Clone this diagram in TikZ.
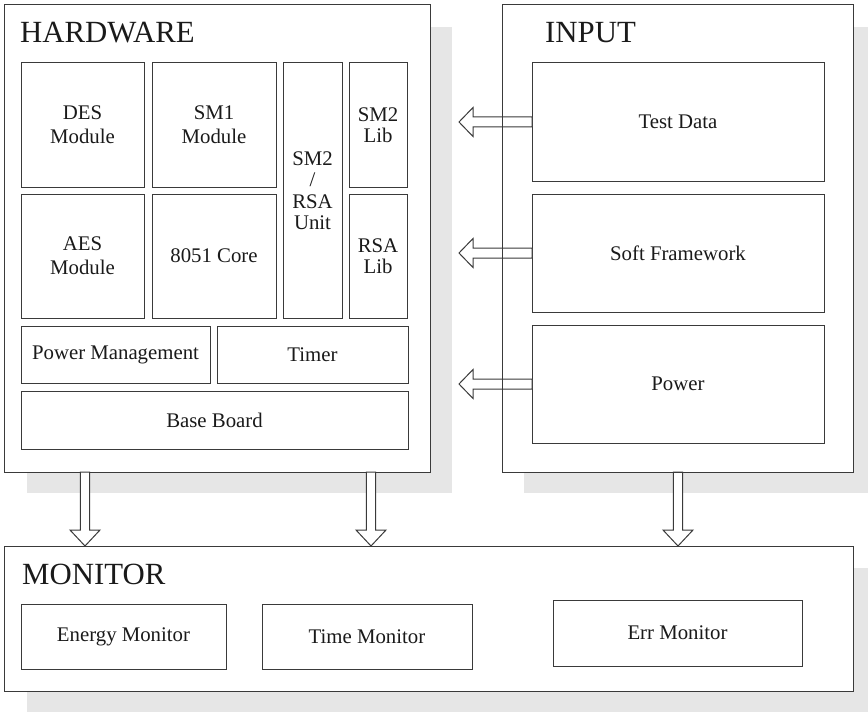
\documentclass[tikz,border=0pt]{standalone}
\usepackage{fontspec}
\setmainfont{Liberation Serif}
\usetikzlibrary{calc}
\definecolor{dropgrey}{HTML}{E6E6E6}
\definecolor{edge}{HTML}{3A3A3A}
\definecolor{ink}{HTML}{1A1A1A}

% a labelled block spanning the corners (#3,#4) and (#5,#6)
\newcommand{\unitbox}[7][]{%
  \node[unit, #1, minimum width={(#5-#3)*1bp}, minimum height={(#6-#4)*1bp}]
    (#2) at ({(#3+#5)/2},{(#4+#6)/2}) {#7};}
% hollow block arrow pointing left, starting at the given point
\newcommand{\hollowleft}[1]{%
  \draw[hollow] (#1) -- ++(0,-5) -- ++(-59,0) -- ++(0,-9.5) -- ++(-14,14.5)
    -- ++(14,14.5) -- ++(0,-9.5) -- ++(59,0) -- cycle;}
% hollow block arrow pointing down, starting at the given point
\newcommand{\hollowdown}[1]{%
  \draw[hollow] (#1) -- ++(4.7,0) -- ++(0,58) -- ++(10.3,0) -- ++(-15,16)
    -- ++(-15,-16) -- ++(10.3,0) -- ++(0,-58) -- cycle;}

\begin{document}
\begin{tikzpicture}[x=1bp,y=-1bp,
  frame/.style={draw=edge, line width=1bp, fill=white, inner sep=0pt, outer sep=0pt},
  unit/.style={frame, align=center, text=ink,
    font=\fontsize{20.8bp}{24bp}\selectfont},
  tight/.style={font=\fontsize{20.8bp}{21.5bp}\selectfont},
  title/.style={anchor=base west, inner sep=0pt, text=ink,
    font=\fontsize{30.8bp}{36bp}\selectfont},
  hollow/.style={draw=edge, line width=1bp, fill=white, line join=miter}]

\useasboundingbox (0,0) rectangle (868,712);

% drop shadows behind the three containers
\fill[dropgrey] (27,27) rectangle (452,493);
\fill[dropgrey] (524,27) rectangle (875,493);
\fill[dropgrey] (27,568) rectangle (875,712);

% containers
\node[frame, minimum width=425bp, minimum height=467bp] (hw) at (217.5,238.5) {};
\node[frame, minimum width=351bp, minimum height=467bp] (inp) at (677.5,238.5) {};
\node[frame, minimum width=848bp, minimum height=145bp] (mon) at (429,618.5) {};

\node[title] (hwt) at (20,43) {HARDWARE};
\node[title] (inpt) at (545,43) {INPUT};
\node[title] (mont) at (22,584) {MONITOR};

% hardware blocks
\unitbox{des}{21}{63}{144}{187}{DES\\Module}
\unitbox{sm1}{152}{63}{276}{187}{SM1\\Module}
\unitbox[tight]{sm2rsa}{283}{63}{342}{318}{SM2\\/\\RSA\\Unit}
\unitbox[tight]{sm2lib}{349}{63}{407}{187}{SM2\\Lib}
\unitbox{aes}{21}{194}{144}{318}{AES\\Module}
\unitbox{core}{152}{194}{276}{318}{8051 Core}
\unitbox[tight]{rsalib}{349}{194}{407}{318}{RSA\\Lib}
\unitbox{pm}{21}{326}{210}{383}{Power Management}
\unitbox{timer}{217}{326}{408}{383}{Timer}
\unitbox{base}{21}{391}{408}{449}{Base Board}

% input blocks
\unitbox{td}{532}{63}{824}{181}{Test Data}
\unitbox{sf}{532}{194}{824}{312}{Soft Framework}
\unitbox{pw}{532}{325}{824}{443}{Power}

% monitor blocks
\unitbox{em}{21}{604}{226}{669}{Energy Monitor}
\unitbox{tm}{262}{604}{472}{669}{Time Monitor}
\unitbox{erm}{553}{600}{802}{666}{Err Monitor}

% input -> hardware
\hollowleft{td.west}
\hollowleft{sf.west}
\hollowleft{pw.west}

% hardware / input -> monitor
\coordinate (d1) at ([xshift=80bp]hw.south west);
\coordinate (d2) at ([xshift=366bp]hw.south west);
\coordinate (d3) at ([xshift=176bp]inp.south west);
\hollowdown{d1}
\hollowdown{d2}
\hollowdown{d3}

% input frame stays visible across the arrow shafts
\draw[draw=edge, line width=1bp] (inp.north west) rectangle (inp.south east);
\end{tikzpicture}
\end{document}
